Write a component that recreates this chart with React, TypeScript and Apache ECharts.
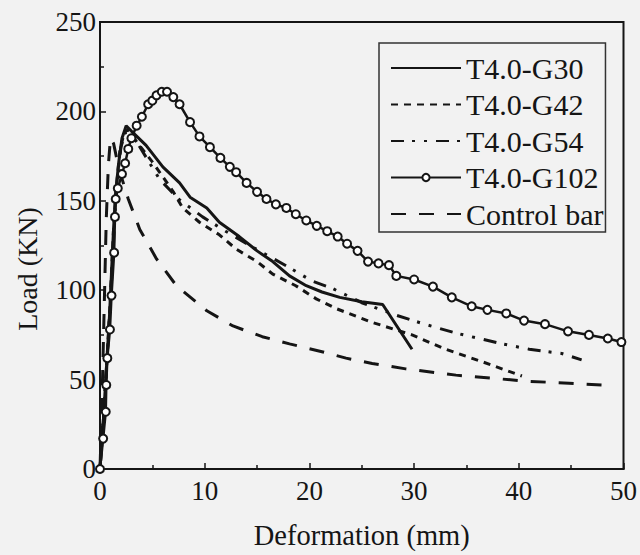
import React, { useEffect, useRef } from "react";
import * as echarts from "echarts";

const seriesNames = ["T4.0-G30", "T4.0-G42", "T4.0-G54", "T4.0-G102", "Control bar"];

const g30: number[][] = [
  [0, 0], [0.3, 25], [0.6, 55], [0.9, 85], [1.1, 110], [1.3, 135], [1.5, 155], [1.8, 172],
  [2.1, 185], [2.5, 192], [3, 189], [4.4, 181], [6, 169], [7.6, 160], [8.6, 152], [10.2, 146],
  [11.4, 138], [13.3, 130], [15, 122], [16.5, 116], [18.1, 108], [19.7, 102.5], [21.2, 99],
  [22.9, 96], [25, 93.5], [27, 92], [29.8, 67],
];

const g42: number[][] = [
  [0, 0], [0.3, 25], [0.6, 55], [0.9, 85], [1.1, 110], [1.3, 135], [1.6, 160], [1.9, 178],
  [2.3, 188], [2.7, 190], [3.5, 183], [5.1, 171], [7, 155], [7.9, 146], [9.5, 138], [11.4, 131],
  [13, 123], [15, 116], [16.5, 109], [18.7, 102.5], [20.7, 95], [22.6, 89.6], [26, 82],
  [29.8, 75], [33, 67], [36.5, 60], [40.3, 52],
];

const g54: number[][] = [
  [0, 0], [0.3, 25], [0.6, 55], [0.9, 85], [1.2, 115], [1.4, 140], [1.7, 165], [2, 180],
  [2.4, 188], [2.8, 189], [3.6, 182], [5.7, 162], [7.5, 151], [9.8, 141], [12, 133],
  [14.3, 125], [17.8, 113.6], [20.3, 105], [22.2, 101], [25, 93], [28.3, 86], [31, 81],
  [34, 76], [38.4, 70], [41, 67], [44.1, 64.6], [46, 61],
];

const g102: number[][] = [
  [0, 0], [0.3, 17], [0.55, 32], [0.6, 47], [0.7, 62], [0.95, 78], [1.1, 97], [1.35, 121],
  [1.43, 141], [1.5, 151], [1.7, 157], [2.1, 165], [2.4, 171], [2.7, 179], [3, 185],
  [3.5, 192], [4, 197], [4.6, 204], [5, 206], [5.4, 209], [5.9, 211], [6.4, 211], [7, 208],
  [7.6, 204], [8.6, 194], [9.5, 186], [10.5, 180], [11.5, 174], [12.4, 169], [13, 166],
  [14, 160], [15, 155], [15.9, 151], [16.8, 148], [17.8, 146], [18.7, 142.5], [19.7, 139],
  [20.7, 136], [21.7, 133], [22.7, 130], [23.6, 126], [24.6, 122], [25.6, 116], [26.6, 115],
  [27.6, 114], [28.3, 108], [30, 106], [31.8, 102], [33.6, 96], [35.5, 91], [37, 89],
  [38.8, 87], [40.5, 83], [42.5, 81], [44.7, 77], [46.7, 75], [48.5, 73], [49.8, 71],
];

const control: number[][] = [
  [0, 0], [0.2, 40], [0.4, 90], [0.6, 140], [0.8, 170], [1, 185], [1.3, 182], [1.8, 168],
  [2.7, 151], [3.8, 134], [5.4, 117.5], [7.3, 102.5], [10.2, 88.5], [12.7, 80], [15.5, 74],
  [18.1, 70], [21.2, 65.6], [23.5, 62], [26, 59], [29.2, 56], [34, 52.5], [37.8, 50.6],
  [41, 49], [44.8, 48], [47.9, 47],
];

const xTicks = { min: 0, max: 50, interval: 10 };
const yTicks = { min: 0, max: 250, interval: 50 };

const FONT = "Liberation Serif";
const INK = "#151515";

export default function App() {
  const ref = useRef<HTMLDivElement>(null);

  useEffect(() => {
    if (!ref.current) return;
    const chart = echarts.init(ref.current, undefined, { renderer: "svg" });

    const line = (name: string, data: number[][], type: any, width = 3) => ({
      name,
      type: "line",
      data,
      symbol: "none",
      smooth: false,
      lineStyle: { color: INK, width, type },
      itemStyle: { color: INK },
      z: 3,
    });

    const legendData = seriesNames.map((name) =>
      name === "T4.0-G102" ? { name } : { name, itemStyle: { opacity: 0 } }
    );

    chart.setOption({
      animation: false,
      backgroundColor: "#f2f2f2",
      textStyle: { fontFamily: FONT, color: INK },
      grid: {
        left: 100,
        right: 15,
        top: 22,
        bottom: 84,
        show: true,
        borderColor: INK,
        borderWidth: 2,
        backgroundColor: "transparent",
      },
      legend: {
        orient: "vertical",
        left: 379,
        top: 43,
        padding: [10, 2, 3, 11],
        itemGap: 6.5,
        itemWidth: 70,
        itemHeight: 9,
        borderColor: "#333",
        borderWidth: 1.5,
        backgroundColor: "transparent",
        data: legendData,
        textStyle: { fontFamily: FONT, fontSize: 30, color: INK, lineHeight: 30 },
      },
      xAxis: {
        type: "value",
        min: xTicks.min,
        max: xTicks.max,
        interval: xTicks.interval,
        name: "Deformation (mm)",
        nameLocation: "middle",
        nameGap: 52,
        nameTextStyle: { fontFamily: FONT, fontSize: 28.5, color: INK },
        axisLine: { show: true, onZero: false, lineStyle: { color: INK, width: 2 } },
        axisTick: { show: true, inside: true, length: 6, lineStyle: { color: INK, width: 1.5 } },
        minorTick: { show: true, splitNumber: 2, length: 4, lineStyle: { color: INK, width: 1.5 } },
        splitLine: { show: false },
        axisLabel: { fontFamily: FONT, fontSize: 27, color: INK, margin: 8 },
      },
      yAxis: {
        type: "value",
        min: yTicks.min,
        max: yTicks.max,
        interval: yTicks.interval,
        axisLine: { show: true, onZero: false, lineStyle: { color: INK, width: 2 } },
        axisTick: { show: true, inside: true, length: 6, lineStyle: { color: INK, width: 1.5 } },
        minorTick: { show: true, splitNumber: 2, length: 4, lineStyle: { color: INK, width: 1.5 } },
        splitLine: { show: false },
        axisLabel: { fontFamily: FONT, fontSize: 27, color: INK, margin: 4 },
      },
      graphic: [
        {
          type: "text",
          x: 27,
          y: 269,
          rotation: Math.PI / 2,
          style: {
            text: "Load (KN)",
            fontFamily: FONT,
            fontSize: 28,
            fill: INK,
            textAlign: "center",
            textVerticalAlign: "middle",
          },
        },
      ],
      series: [
        line(seriesNames[0], g30, "solid", 3),
        line(seriesNames[1], g42, [7, 6], 3),
        line(seriesNames[2], g54, [13, 8, 3, 9, 3, 9], 3),
        {
          name: seriesNames[3],
          type: "line",
          data: g102,
          symbol: "emptyCircle",
          symbolSize: 8,
          showSymbol: true,
          showAllSymbol: true,
          lineStyle: { color: INK, width: 2.5 },
          itemStyle: { color: INK, borderColor: INK, borderWidth: 1.3 },
          z: 4,
        },
        line(seriesNames[4], control, [15, 13], 3),
      ],
    });

    return () => chart.dispose();
  }, []);

  return (
    <div
      ref={ref}
      style={{ position: "fixed", left: 0, top: 0, width: 640, height: 555 }}
    />
  );
}
